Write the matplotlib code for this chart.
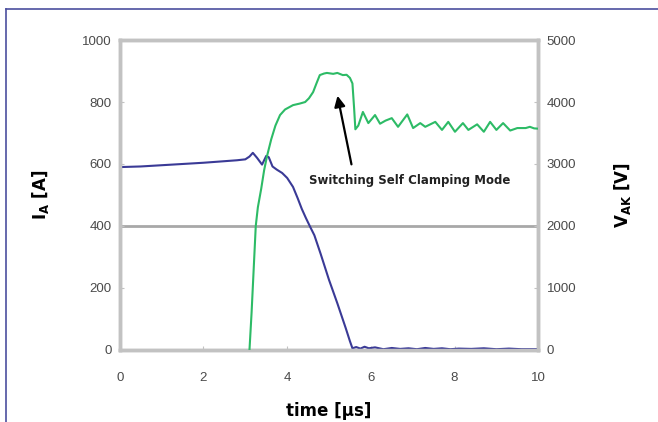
import matplotlib.pyplot as plt
from matplotlib.lines import Line2D

# anode current I_A [A]
t_ia = [0.0, 0.5, 1.0, 1.5, 2.0, 2.5, 2.8, 3.0, 3.1, 3.18, 3.28, 3.4, 3.5, 3.56,
        3.65, 3.75, 3.88, 4.0, 4.14, 4.25, 4.35, 4.45, 4.55, 4.65, 4.8, 5.0,
        5.2, 5.4, 5.5, 5.56, 5.65, 5.75, 5.85, 5.95, 6.1, 6.3, 6.5, 6.7, 6.9,
        7.1, 7.3, 7.5, 7.7, 7.9, 8.1, 8.4, 8.7, 9.0, 9.3, 9.6, 10.0]
ia = [590, 592, 596, 600, 604, 609, 612, 615, 624, 636, 620, 598, 626, 622,
      592, 582, 571, 555, 526, 490, 455, 425, 397, 370, 310, 226,
      150, 70, 28, 5, 9, 4, 10, 5, 8, 2, 6, 3, 5, 2,
      6, 3, 5, 2, 4, 3, 5, 2, 4, 2, 2]

# anode-cathode voltage V_AK [V]
t_vak = [3.1, 3.15, 3.2, 3.25, 3.3, 3.38, 3.45, 3.52, 3.62, 3.72, 3.83, 3.95,
         4.14, 4.3, 4.43, 4.52, 4.62, 4.7, 4.78, 4.88, 4.95, 5.1, 5.2, 5.33,
         5.42, 5.5, 5.56, 5.6, 5.63, 5.7, 5.81, 5.94, 6.1, 6.22, 6.35, 6.5,
         6.65, 6.87, 7.01, 7.18, 7.3, 7.54, 7.7, 7.85, 8.01, 8.2, 8.33, 8.54,
         8.7, 8.85, 9.0, 9.16, 9.33, 9.5, 9.7, 9.8, 9.9, 10.0]
vak = [0, 600, 1300, 2000, 2300, 2600, 2900, 3130, 3400, 3620, 3790, 3880,
       3950, 3975, 4000, 4060, 4160, 4300, 4435, 4460, 4470, 4455, 4470, 4435,
       4440, 4390, 4300, 3900, 3560, 3620, 3840, 3660, 3790, 3650, 3700, 3740,
       3600, 3800, 3580, 3660, 3600, 3680, 3550, 3680, 3520, 3660, 3550, 3640,
       3520, 3680, 3550, 3660, 3540, 3580, 3580, 3600, 3575, 3570]

tick_col = '#4a4a4a'
frame_col = '#c2c2c2'
lab_font = dict(fontsize=12, fontweight='bold', family=['DejaVu Sans'])

fig = plt.figure(figsize=(6.58, 4.22), dpi=100)
plt.rcParams['font.family'] = ['Liberation Sans', 'DejaVu Sans']
plt.rcParams['mathtext.fontset'] = 'dejavusans'
ax = fig.add_axes([0.182, 0.171, 0.636, 0.734])
ax2 = ax.twinx()

ax.plot(t_ia, ia, color='#3a3a96', lw=1.5, zorder=3)
ax2.plot(t_vak, vak, color='#2dbb66', lw=1.5, zorder=3)

ax.set_xlim(0, 10)
ax.set_ylim(0, 1000)
ax2.set_ylim(0, 5000)
ax.set_xticks(range(0, 11, 2))
ax.set_yticks(range(0, 1001, 200))
ax2.set_yticks(range(0, 5001, 1000))

# single grid line at 400 A
ax.axhline(400, color='#a8a8a8', lw=2, zorder=1)

for a in (ax, ax2):
    for s in a.spines.values():
        s.set_color(frame_col)
        s.set_linewidth(2.5)
    a.tick_params(direction='in', length=3, color=frame_col, labelsize=9.5,
                  labelcolor=tick_col, pad=6)
ax.tick_params(axis='x', pad=16)

ax.set_xlabel('time [\u00b5s]', labelpad=13, **lab_font)
ax.set_ylabel('I$_\\mathbf{A}$ [A]', labelpad=22, **lab_font)
ax2.set_ylabel('V$_\\mathbf{AK}$ [V]', labelpad=26, **lab_font)

ax.annotate('', xy=(5.19, 829), xytext=(5.55, 590),
            arrowprops=dict(arrowstyle='-|>', color='black', lw=1.6,
                            mutation_scale=16), zorder=5)
ax.text(6.94, 548, 'Switching Self Clamping Mode', ha='center', va='center',
        fontsize=8.5, fontweight='bold', color='#222222', family=['DejaVu Sans'])

# outer frame lines
fig.add_artist(Line2D([6/658, 1], [1 - 9/422, 1 - 9/422], color='#4b4f9e', lw=1.2))
fig.add_artist(Line2D([6/658, 6/658], [0, 1 - 9/422], color='#4b4f9e', lw=1.2))

fig.savefig('out.png', dpi=100, facecolor='white')
